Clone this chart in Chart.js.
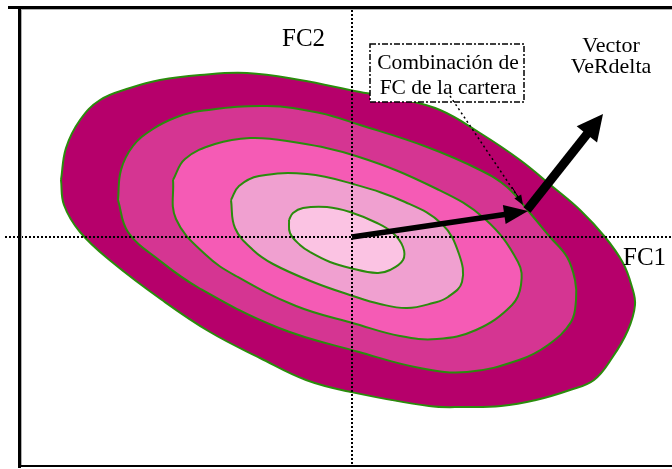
<!DOCTYPE html>
<html lang="es">
<head>
<meta charset="UTF-8">
<title>Combinación de FC de la cartera</title>
<style>
    html, body {
        margin: 0;
        padding: 0;
        background: #ffffff;
    }
    #marco {
        width: 672px;
        height: 469px;
    }
</style>
<script src="https://cdn.jsdelivr.net/npm/chart.js"></script>
</head>
<body>
<div id="marco"><canvas id="grafico" width="672" height="469"></canvas></div>
<script>
    // Contornos, puntos [FC1, FC2], del interior al exterior
    const contorno1 = [[-63,17],[-59,24],[-49,29],[-25,30],[-2,25],[25,14],[41,4],[51,-10],[51,-23],[38,-33],
        [25,-36],[-2,-31],[-22,-25],[-42,-15],[-52,-8],[-62,4],[-63,17]];
    const contorno2 = [[-121,37],[-113,51],[-93,61],[-45,63],[1,53],[53,35],[90,13],[107,-17],[110,-45],[96,-60],
        [81,-66],[55,-71],[28,-67],[1,-59],[-39,-45],[-79,-27],[-99,-13],[-117,9],[-121,37]];
    const contorno3 = [[-179,57],[-167,78],[-137,93],[-102,99],[-65,96],[4,81],[85,48],[133,18],[166,-25],[169,-48],
        [160,-68],[124,-93],[85,-102],[48,-99],[4,-87],[-56,-69],[-116,-39],[-146,-18],[-176,18],[-179,57]];
    const contorno4 = [[-234,37],[-231,67],[-219,91],[-199,108],[-175,120],[-152,126],[-85,131],[-32,124],[8,112],
        [75,90],[128,67],[155,50],[178,24],[198,0],[215,-20],[223,-43],[224,-63],[219,-85],[196,-108],[167,-123],
        [115,-135],[68,-131],[7,-115],[-73,-91],[-153,-51],[-193,-23],[-224,5],[-234,37]];
    const contorno5 = [[-291,57],[-286,89],[-272,117],[-252,137],[-222,149],[-192,157],[-152,162],[-105,164],
        [-52,157],[8,145],[48,138],[88,127],[128,104],[168,77],[201,50],[228,27],[253,0],[271,-26],[280,-50],
        [283,-68],[276,-93],[260,-121],[242,-143],[218,-153],[184,-163],[149,-169],[113,-170],[77,-169],[-1,-155],
        [-46,-143],[-92,-121],[-142,-95],[-190,-63],[-240,-25],[-272,5],[-288,32],[-291,57]];
    const rellenos = ['#fbc3e3', '#f0a0d0', '#f55bb5', '#d53592', '#b6006b'];

    // Vectores (origen, extremo)
    const vectorCartera = [[0,0],[176,26]];
    const vectorVeRdelta = [[175,27],[251,123]];

    const rangoFC1 = [-352, 320];
    const rangoFC2 = [-232, 237];

    const contornos = [contorno1, contorno2, contorno3, contorno4, contorno5];

    function aPuntos(lista) {
        return lista.map(p => ({x: p[0], y: p[1]}));
    }

    function flecha(ctx, x0, y0, x1, y1, grosor, largo, ancho) {
        const ang = Math.atan2(y1 - y0, x1 - x0);
        const bx = x1 - Math.cos(ang) * largo;
        const by = y1 - Math.sin(ang) * largo;
        ctx.save();
        ctx.strokeStyle = '#000';
        ctx.fillStyle = '#000';
        ctx.lineWidth = grosor;
        ctx.lineCap = 'butt';
        ctx.beginPath();
        ctx.moveTo(x0, y0);
        ctx.lineTo(bx + Math.cos(ang) * 2, by + Math.sin(ang) * 2);
        ctx.stroke();
        ctx.beginPath();
        ctx.moveTo(x1, y1);
        ctx.lineTo(bx + Math.sin(ang) * ancho, by - Math.cos(ang) * ancho);
        ctx.lineTo(bx - Math.sin(ang) * ancho, by + Math.cos(ang) * ancho);
        ctx.closePath();
        ctx.fill();
        ctx.restore();
    }

    const anotaciones = {
        id: 'anotaciones',
        afterDatasetsDraw(chart) {
            const ctx = chart.ctx;
            const sx = chart.scales.x;
            const sy = chart.scales.y;
            const x0 = sx.getPixelForValue(0);
            const y0 = sy.getPixelForValue(0);

            // ejes punteados
            ctx.save();
            ctx.strokeStyle = '#000';
            ctx.lineWidth = 2;
            ctx.setLineDash([2, 2]);
            ctx.beginPath();
            ctx.moveTo(x0, 10);
            ctx.lineTo(x0, 464);
            ctx.moveTo(5, y0);
            ctx.lineTo(672, y0);
            ctx.stroke();
            ctx.restore();

            // recuadro de la etiqueta
            const bx0 = sx.getPixelForValue(18), by0 = sy.getPixelForValue(193);
            const bx1 = sx.getPixelForValue(172), by1 = sy.getPixelForValue(135);
            ctx.save();
            ctx.fillStyle = '#fff';
            ctx.fillRect(bx0, by0, bx1 - bx0, by1 - by0);
            ctx.strokeStyle = '#000';
            ctx.lineWidth = 1.5;
            ctx.setLineDash([6, 2, 2, 2]);
            ctx.strokeRect(bx0, by0, bx1 - bx0, by1 - by0);
            // linea guia
            ctx.setLineDash([2, 3]);
            ctx.beginPath();
            ctx.moveTo(sx.getPixelForValue(98), sy.getPixelForValue(141));
            ctx.lineTo(sx.getPixelForValue(166), sy.getPixelForValue(40));
            ctx.stroke();
            ctx.restore();
            flecha(ctx, sx.getPixelForValue(160), sy.getPixelForValue(50),
                sx.getPixelForValue(171), sy.getPixelForValue(32), 1, 10, 4);

            // vectores
            flecha(ctx, sx.getPixelForValue(vectorCartera[0][0]), sy.getPixelForValue(vectorCartera[0][1]),
                sx.getPixelForValue(vectorCartera[1][0]), sy.getPixelForValue(vectorCartera[1][1]), 5.5, 24, 9.5);
            flecha(ctx, sx.getPixelForValue(vectorVeRdelta[0][0]), sy.getPixelForValue(vectorVeRdelta[0][1]),
                sx.getPixelForValue(vectorVeRdelta[1][0]), sy.getPixelForValue(vectorVeRdelta[1][1]), 9, 26, 13);

            // textos
            ctx.save();
            ctx.fillStyle = '#000';
            ctx.textBaseline = 'alphabetic';
            ctx.font = '25px "Liberation Serif", "Times New Roman", serif';
            ctx.textAlign = 'left';
            ctx.fillText('FC2', 282, 46);
            ctx.fillText('FC1', 623, 265);
            ctx.font = '21.5px "Liberation Serif", "Times New Roman", serif';
            ctx.textAlign = 'center';
            ctx.fillText('Combinación de', 448, 69);
            ctx.fillText('FC de la cartera', 448, 94);
            ctx.font = '22px "Liberation Serif", "Times New Roman", serif';
            ctx.fillText('Vector', 611, 52);
            ctx.fillText('VeRdelta', 611, 73);
            ctx.restore();

            // marco
            ctx.save();
            ctx.fillStyle = '#000';
            ctx.fillRect(8, 6, 664, 3);
            ctx.fillRect(18, 8, 3, 460);
            ctx.fillRect(18, 465, 654, 2);
            ctx.fillStyle = '#b0b0b0';
            ctx.fillRect(21, 9, 651, 1);
            ctx.fillRect(21, 9, 1, 456);
            ctx.restore();
        }
    };

    new Chart(document.getElementById('grafico'), {
        type: 'scatter',
        data: {
            datasets: contornos.map((c, i) => ({
                label: 'Contorno ' + (i + 1),
                data: aPuntos(c),
                showLine: true,
                fill: 'shape',
                backgroundColor: rellenos[i],
                borderColor: '#2a8c0c',
                borderWidth: 2,
                tension: 0.4,
                pointRadius: 0,
                pointHoverRadius: 0
            }))
        },
        options: {
            responsive: false,
            animation: false,
            layout: { padding: 0 },
            scales: {
                x: { type: 'linear', min: rangoFC1[0], max: rangoFC1[1], display: false },
                y: { type: 'linear', min: rangoFC2[0], max: rangoFC2[1], display: false }
            },
            plugins: {
                legend: { display: false },
                tooltip: { enabled: false }
            }
        },
        plugins: [anotaciones]
    });
</script>
</body>
</html>
